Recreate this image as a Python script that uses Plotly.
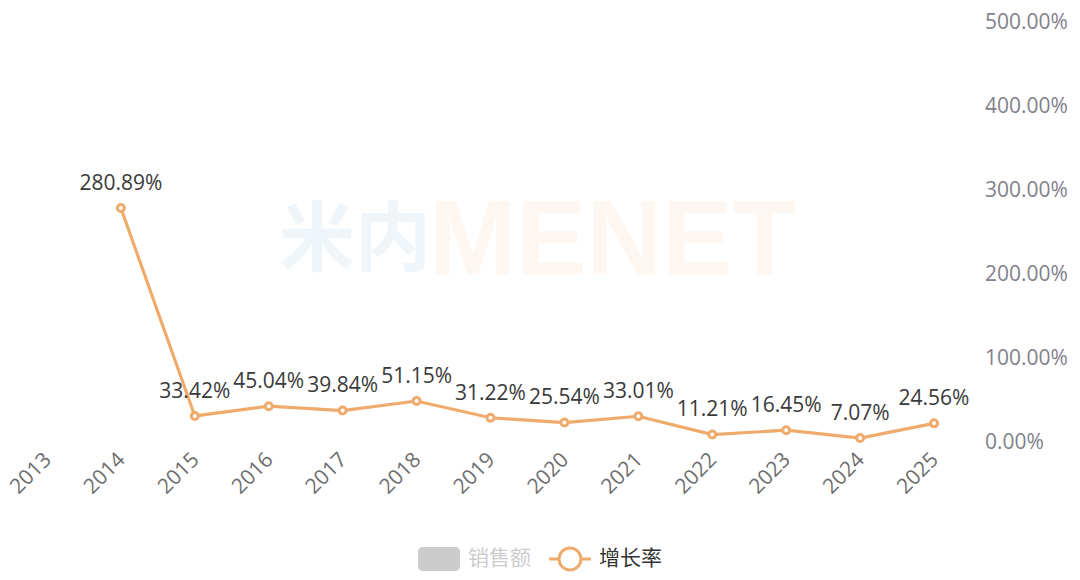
import plotly.graph_objects as go

years = ["2013","2014","2015","2016","2017","2018","2019","2020","2021","2022","2023","2024","2025"]
growth = [None,280.89,33.42,45.04,39.84,51.15,31.22,25.54,33.01,11.21,16.45,7.07,24.56]
y_ticks = [0,100,200,300,400,500]
y_labels = ["0.00%","100.00%","200.00%","300.00%","400.00%","500.00%"]
labels = [None if g is None else f"{g:.2f}%" for g in growth]

W,H = 1080,580
L,R,T,B = 10,971,24,444
def px(x): return (x-L)/(R-L)
def py(y): return (B-y)/(B-T)

COL = "#EFAB6C"
FONT = "'Noto Sans CJK SC','Noto Sans',sans-serif"
LAT = "'Open Sans','Noto Sans CJK SC',sans-serif"

fig = go.Figure()
fig.add_trace(go.Scatter(
    x=years, y=growth, mode="lines+markers",
    line=dict(color=COL, width=3.2),
    marker=dict(size=7, color="#fff", line=dict(color=COL, width=3)),
    cliponaxis=False, showlegend=False, hoverinfo="skip"))
fig.add_trace(go.Scatter(
    x=years, y=growth, mode="markers+text", text=labels, textposition="top center",
    textfont=dict(size=21, color="#3a3a3a", family=LAT),
    marker=dict(size=19, color="rgba(0,0,0,0)", line=dict(width=0)),
    cliponaxis=False, showlegend=False, hoverinfo="skip"))

anns = [
 dict(text="<b>米内</b>", x=px(355), y=py(232), font=dict(size=76, color="#EFF5F8", family=FONT)),
 dict(text="<b>MENET</b>", x=px(613), y=py(237), font=dict(size=105, color="#FEF6F0", family="'Liberation Sans',sans-serif")),
 dict(text="销售额", x=px(499), y=py(556), font=dict(size=21, color="#CCCCCC", family=FONT)),
 dict(text="增长率", x=px(630), y=py(556), font=dict(size=21, color="#333333", family=FONT)),
]
for a in anns:
    a.update(xref="paper", yref="paper", showarrow=False, xanchor="center", yanchor="middle")

def rr(x0,x1,y0,y1,r):
    return (f"M{px(x0+r)},{py(y0)} L{px(x1-r)},{py(y0)} Q{px(x1)},{py(y0)} {px(x1)},{py(y0+r)} "
            f"L{px(x1)},{py(y1-r)} Q{px(x1)},{py(y1)} {px(x1-r)},{py(y1)} "
            f"L{px(x0+r)},{py(y1)} Q{px(x0)},{py(y1)} {px(x0)},{py(y1-r)} "
            f"L{px(x0)},{py(y0+r)} Q{px(x0)},{py(y0)} {px(x0+r)},{py(y0)} Z")

shapes = [
 dict(type="path", path=rr(418,460,547,571,5), fillcolor="#CCCCCC", line_width=0),
 dict(type="line", x0=px(549), x1=px(591), y0=py(559), y1=py(559), line=dict(color=COL, width=3)),
 dict(type="circle", x0=px(559), x1=px(581), y0=py(570), y1=py(548), fillcolor="#fff", line=dict(color=COL, width=3)),
]
for s in shapes:
    s.update(xref="paper", yref="paper")

fig.update_layout(
    width=W, height=H, autosize=False, paper_bgcolor="#fff", plot_bgcolor="rgba(0,0,0,0)",
    margin=dict(l=L, r=W-R, t=T, b=H-B, pad=0, autoexpand=False),
    annotations=anns, shapes=shapes, showlegend=False,
    xaxis=dict(type="category", categoryorder="array", categoryarray=years, range=[-0.5,12.5],
               automargin=False,
               showgrid=False, showline=False, zeroline=False, ticks="", tickangle=-45,
               ticklabelshift=-2, ticklabelstandoff=-2,
               tickfont=dict(size=21, color="#6E6E6E", family=LAT)),
    yaxis=dict(side="right", range=[0,500], tickvals=y_ticks, ticktext=y_labels, showgrid=False,
               automargin=False,
               showline=False, zeroline=False, ticks="", ticklabelstandoff=13, ticklabelshift=-2,
               tickfont=dict(size=21, color="#82818B", family=LAT)),
)
fig.write_html("out.html", config=dict(displayModeBar=False),
               post_script="document.body.style.margin='0';document.body.style.overflow='hidden';")
